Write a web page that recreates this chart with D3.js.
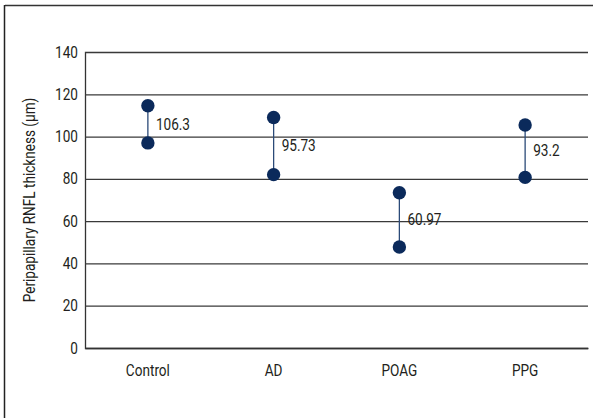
<!DOCTYPE html>
<html>
<head>
<meta charset="utf-8">
<script src="https://cdn.jsdelivr.net/npm/d3@7"></script>
<style>
  body { margin: 0; background: #fff; }
  text { font-family: Roboto, "Noto Sans", sans-serif; fill: #231f20; }
</style>
</head>
<body>
<script>
// DATA
const groups = ['Control', 'AD', 'POAG', 'PPG'];
const highValues = [114.6, 109, 73.4, 105.5];
const lowValues = [97.0, 82, 47.8, 80.7];
const meanLabels = ['106.3', '95.73', '60.97', '93.2'];
const yTicks = [0, 20, 40, 60, 80, 100, 120, 140];

// CONFIGURATION
const width = 593;
const height = 418;
const margin = { top: 52, right: 5, bottom: 70, left: 85 };
const dotColor = '#0b2a5b';
const squeeze = 0.85; // narrow the font to look condensed

const xScale = d3.scaleBand()
  .domain(groups)
  .range([margin.left, width - margin.right]);
const yScale = d3.scaleLinear()
  .domain([0, 140])
  .range([height - margin.bottom, margin.top]);

const svg = d3.select('body')
  .append('svg')
  .attr('width', width)
  .attr('height', height);

// FRAME (top and left only)
svg.append('line')
  .attr('x1', 5).attr('x2', width).attr('y1', 5.5).attr('y2', 5.5)
  .attr('stroke', '#333').attr('stroke-width', 1.5);
svg.append('line')
  .attr('x1', 4.5).attr('x2', 4.5).attr('y1', 5).attr('y2', height)
  .attr('stroke', '#222').attr('stroke-width', 1.5);

// GRID
const yAxis = d3.axisLeft(yScale)
  .tickValues(yTicks)
  .tickSize(-(width - margin.right - margin.left))
  .tickPadding(7);
const yg = svg.append('g')
  .attr('transform', `translate(${margin.left}, 0)`)
  .call(yAxis);
yg.select('.domain').attr('stroke', '#333').attr('stroke-width', 1.3);
yg.selectAll('.tick line').attr('stroke', '#3a3a3a').attr('stroke-width', 1.2);
yg.selectAll('.tick text')
  .attr('font-size', 16)
  .attr('font-family', null)
  .attr('x', -7 / squeeze)
  .attr('transform', `scale(${squeeze},1)`);

// X AXIS LABELS
const xAxis = d3.axisBottom(xScale).tickSize(0).tickPadding(17);
const xg = svg.append('g')
  .attr('transform', `translate(0, ${height - margin.bottom})`)
  .call(xAxis);
xg.select('.domain').attr('stroke', '#333').attr('stroke-width', 1.3);
xg.selectAll('.tick text')
  .attr('font-size', 16)
  .attr('font-family', null)
  .attr('transform', `scale(${squeeze},1)`);

// Y TITLE
svg.append('text')
  .attr('transform', `translate(31, ${(margin.top + height - margin.bottom) / 2}) rotate(-90) scale(${squeeze},1)`)
  .attr('text-anchor', 'middle')
  .attr('dominant-baseline', 'middle')
  .attr('font-size', 16)
  .text('Peripapillary RNFL thickness (µm)');

// RANGES
const rows = groups.map(function(g, i) {
  return { group: g, high: highValues[i], low: lowValues[i], label: meanLabels[i] };
});
const cx = function(d) { return xScale(d.group) + xScale.bandwidth() / 2; };

svg.selectAll('.range')
  .data(rows)
  .enter()
  .append('line')
  .attr('class', 'range')
  .attr('x1', cx).attr('x2', cx)
  .attr('y1', function(d) { return yScale(d.high); })
  .attr('y2', function(d) { return yScale(d.low); })
  .attr('stroke', '#2b4a78')
  .attr('stroke-width', 1.3);

svg.selectAll('.dot-high')
  .data(rows)
  .enter()
  .append('circle')
  .attr('cx', cx)
  .attr('cy', function(d) { return yScale(d.high); })
  .attr('r', 6.7)
  .attr('fill', dotColor);

svg.selectAll('.dot-low')
  .data(rows)
  .enter()
  .append('circle')
  .attr('cx', cx)
  .attr('cy', function(d) { return yScale(d.low); })
  .attr('r', 6.7)
  .attr('fill', dotColor);

svg.selectAll('.mean-label')
  .data(rows)
  .enter()
  .append('text')
  .attr('transform', function(d) {
    return `translate(${cx(d) + 8}, ${yScale((d.high + d.low) / 2) + 1}) scale(${squeeze},1)`;
  })
  .attr('dominant-baseline', 'middle')
  .attr('font-size', 16)
  .text(function(d) { return d.label; });
</script>
</body>
</html>
